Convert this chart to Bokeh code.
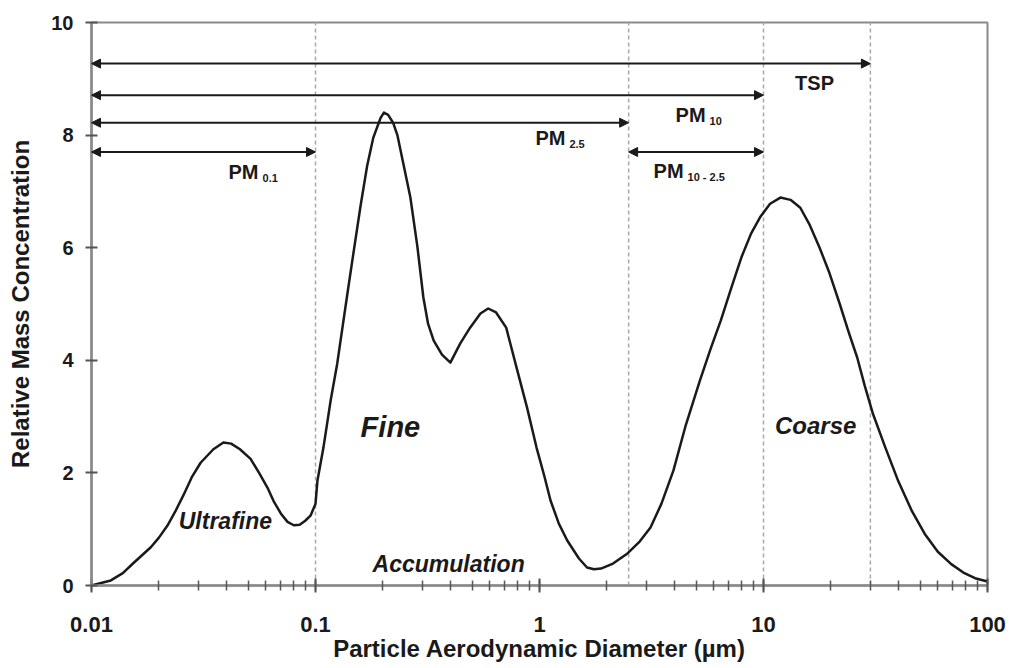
from bokeh.plotting import figure
from bokeh.models import (Arrow, NormalHead, Label, FixedTicker, LogTicker,
                          CustomJSTickFormatter)
from bokeh.embed import file_html
from bokeh.resources import INLINE

# ---- data -----------------------------------------------------------
size_um = [0.010, 0.0122, 0.0138, 0.0154, 0.0184, 0.0200, 0.0218, 0.0237, 0.0257,
           0.0280, 0.0307, 0.0350, 0.0388, 0.0420, 0.0460, 0.0513, 0.0560, 0.0610,
           0.0650, 0.0700, 0.0750, 0.0800, 0.0850, 0.0900, 0.0950, 0.1000, 0.1020,
           0.1085, 0.1170, 0.1250, 0.1390, 0.1470, 0.1590, 0.1700, 0.1810, 0.1950,
           0.2020, 0.2110, 0.2220, 0.2320, 0.2450, 0.2650, 0.2850, 0.3030, 0.3180,
           0.3370, 0.3670, 0.4000, 0.4430, 0.4900, 0.5450, 0.5900, 0.6400, 0.7100,
           0.7900, 0.8800, 0.9700, 1.0500, 1.1200, 1.2200, 1.3300, 1.5000, 1.6300,
           1.7500, 1.8800, 2.1300, 2.4700, 2.8000, 3.1300, 3.5000, 3.9600, 4.5000,
           5.2000, 5.8000, 6.4500, 7.2000, 7.9700, 8.8000, 9.6500, 10.700, 11.900,
           13.200, 14.600, 16.100, 17.800, 19.700, 21.900, 24.000, 26.200, 28.300,
           30.800, 35.000, 40.000, 46.000, 52.400, 60.000, 68.900, 78.000, 88.000,
           100.00]
rel_conc = [0.00, 0.09, 0.22, 0.40, 0.68, 0.85, 1.06, 1.32, 1.60,
            1.92, 2.18, 2.42, 2.54, 2.52, 2.42, 2.25, 2.00, 1.74,
            1.50, 1.28, 1.13, 1.07, 1.08, 1.15, 1.24, 1.45, 1.86,
            2.45, 3.30, 3.94, 5.20, 5.85, 6.75, 7.45, 7.95, 8.30,
            8.40, 8.36, 8.22, 8.00, 7.55, 6.90, 6.02, 5.12, 4.65,
            4.35, 4.10, 3.96, 4.30, 4.58, 4.83, 4.92, 4.85, 4.58,
            3.87, 3.16, 2.45, 1.95, 1.51, 1.10, 0.80, 0.48, 0.32,
            0.29, 0.30, 0.39, 0.57, 0.78, 1.03, 1.45, 2.04, 2.85,
            3.64, 4.20, 4.71, 5.30, 5.83, 6.25, 6.54, 6.78, 6.89,
            6.85, 6.71, 6.40, 6.00, 5.55, 5.00, 4.50, 4.05, 3.55,
            3.05, 2.45, 1.85, 1.32, 0.92, 0.60, 0.38, 0.23, 0.13,
            0.07]

cut_sizes = [0.1, 2.5, 10, 30]

fraction_names = ["TSP", "PM10", "PM2.5", "PM0.1", "PM10-2.5"]
fraction_lo = [0.01, 0.01, 0.01, 0.01, 2.5]
fraction_hi = [30, 10, 2.5, 0.1, 10]
fraction_level = [9.27, 8.71, 8.22, 7.70, 7.70]

y_ticks = [0, 2, 4, 6, 8, 10]

# ---- figure ---------------------------------------------------------
FONT = "Liberation Sans"
GRAY = "#8a8a8a"
TICK = "#555555"
INK = "#1a1a1a"

p = figure(width=1010, height=668, x_axis_type="log",
           x_range=(0.01, 100), y_range=(0, 10),
           output_backend="svg", toolbar_location=None,
           min_border_left=91, min_border_right=23,
           min_border_top=22, min_border_bottom=83)
p.grid.visible = False
p.outline_line_color = GRAY
p.outline_line_width = 2
p.background_fill_color = "white"
p.border_fill_color = "white"

# cut-size dashed lines
p.segment(x0=cut_sizes, y0=[0] * len(cut_sizes), x1=cut_sizes, y1=[10] * len(cut_sizes),
          line_color="#a8a8a8", line_width=1.5, line_dash="4 3")

# size distribution curve
p.line(size_um, rel_conc, line_color=INK, line_width=2.5, line_join="round")

# fraction arrows
for lo, hi, lvl in zip(fraction_lo, fraction_hi, fraction_level):
    p.add_layout(Arrow(x_start=lo, y_start=lvl, x_end=hi, y_end=lvl,
                       line_color=INK, line_width=2,
                       start=NormalHead(size=9, fill_color=INK, line_color=INK, line_width=1),
                       end=NormalHead(size=9, fill_color=INK, line_color=INK, line_width=1)))

# axes
xax = p.xaxis[0]
xax.ticker = LogTicker(desired_num_ticks=5, num_minor_ticks=10)
xax.formatter = CustomJSTickFormatter(code="return tick.toString();")
yax = p.yaxis[0]
yax.ticker = FixedTicker(ticks=y_ticks)

for ax in (xax, yax):
    ax.axis_line_color = GRAY
    ax.axis_line_width = 2.5
    ax.major_tick_line_color = TICK
    ax.major_tick_line_width = 2
    ax.minor_tick_line_color = TICK
    ax.minor_tick_line_width = 1.5
    ax.major_label_text_font = FONT
    ax.major_label_text_font_style = "bold"
    ax.major_label_text_color = INK
    ax.axis_label_text_font = FONT
    ax.axis_label_text_font_style = "bold"
    ax.axis_label_text_color = INK
    ax.axis_label_text_font_size = "24px"

xax.major_tick_in = 7
xax.major_tick_out = 7
xax.minor_tick_in = 5
xax.minor_tick_out = 5
xax.major_label_text_font_size = "22px"
xax.major_label_standoff = 24
xax.axis_label = "Particle Aerodynamic Diameter (\u00b5m)"
xax.axis_label_standoff = 0

yax.major_tick_in = 6
yax.major_tick_out = 6
yax.minor_tick_line_color = None
yax.major_label_text_font_size = "20px"
yax.major_label_standoff = 12
yax.axis_label = "Relative Mass Concentration"
yax.axis_label_standoff = 14

# mode labels (bold italic)
def mode_label(txt, x, y, size):
    p.add_layout(Label(x=x, y=y, text=txt, text_font=FONT, text_font_style="bold italic",
                       text_font_size=size, text_color=INK,
                       text_align="center", text_baseline="middle"))

mode_label("Fine", 0.216, 2.82, "29px")
mode_label("Ultrafine", 0.0396, 1.15, "23px")
mode_label("Accumulation", 0.393, 0.39, "23px")
mode_label("Coarse", 17.1, 2.84, "24px")

# fraction labels
p.add_layout(Label(x=16.9, y=8.92, text="TSP", text_font=FONT, text_font_style="bold",
                   text_font_size="20px", text_color=INK,
                   text_align="center", text_baseline="middle"))

def pm_label(x, y, sub):
    p.add_layout(Label(x=x, y=y, text="PM", text_font=FONT, text_font_style="bold",
                       text_font_size="20px", text_color=INK,
                       text_align="left", text_baseline="middle"))
    p.add_layout(Label(x=x, y=y, x_offset=34, y_offset=-6, text=sub, text_font=FONT,
                       text_font_style="bold", text_font_size="11px", text_color=INK,
                       text_align="left", text_baseline="middle"))

pm_label(0.0409, 7.34, "0.1")
pm_label(0.959, 7.94, "2.5")
pm_label(4.05, 8.35, "10")
pm_label(3.23, 7.37, "10 - 2.5")

open("out.html", "w").write(file_html(p, INLINE))
